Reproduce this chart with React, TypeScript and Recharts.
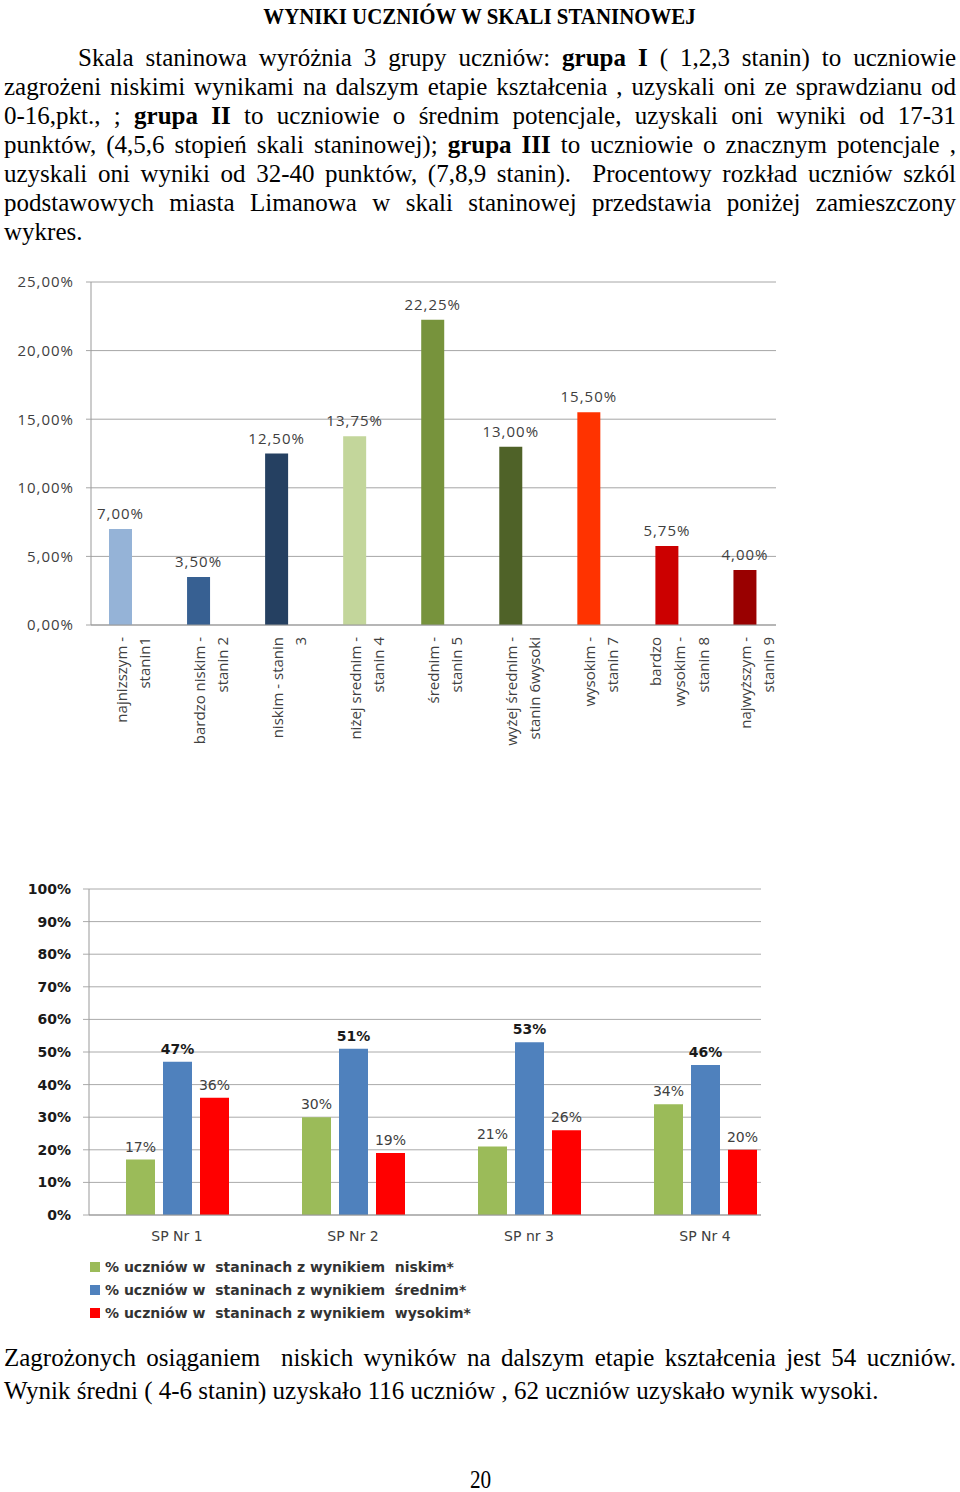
import React from 'react';
import { BarChart, Bar, XAxis, YAxis, CartesianGrid, LabelList, Cell, Legend } from 'recharts';

// ─── data: stanin distribution ───────────────────────────────────────────────
const staninCategories = [
  'najnizszym -\nstanin1',
  'bardzo niskim -\nstanin 2',
  'niskim - stanin\n3',
  'niżej srednim -\nstanin 4',
  'średnim -\nstanin 5',
  'wyżej średnim -\nstanin 6wysoki',
  'wysokim -\nstanin 7',
  'bardzo\nwysokim -\nstanin 8',
  'najwyższym -\nstanin 9',
];
const staninValues = [7, 3.5, 12.5, 13.75, 22.25, 13, 15.5, 5.75, 4];
const staninColors = ['#95B3D7', '#376092', '#254061', '#C3D69B', '#77933C', '#4F6228', '#FF3300', '#CC0000', '#990000'];
const staninTicks = [0, 5, 10, 15, 20, 25];

// ─── data: schools ───────────────────────────────────────────────────────────
const schools = ['SP Nr 1', 'SP Nr 2', 'SP nr 3', 'SP Nr 4'];
const lowShare = [17, 30, 21, 34];
const midShare = [47, 51, 53, 46];
const highShare = [36, 19, 26, 20];
const seriesNames = [
  '% uczniów w  staninach z wynikiem  niskim*',
  '% uczniów w  staninach z wynikiem  średnim*',
  '% uczniów w  staninach z wynikiem  wysokim*',
];
const seriesColors = ['#9BBB59', '#4F81BD', '#FF0000'];
const percentTicks = [0, 10, 20, 30, 40, 50, 60, 70, 80, 90, 100];
const edgeTicks = [0, 1, 2, 3];

const staninData = staninCategories.map((name, i) => ({ name, value: staninValues[i] }));
const schoolData = schools.map((school, i) => ({
  school,
  low: lowShare[i],
  mid: midShare[i],
  high: highShare[i],
}));

const fmtStanin = (v: number) => v.toFixed(2).replace('.', ',') + '%';
const fmtPct = (v: number) => `${v}%`;

const SANS = "'Open Sans', sans-serif";
const DEJA = "'DejaVu Sans', sans-serif";
const SERIF = "'Liberation Serif', 'Times New Roman', serif";

const StaninTick = ({ x, y, payload }: any) => {
  const lines = String(payload.value).split('\n');
  const offs = lines.length === 3 ? [-11, 13, 37] : [1, 24];
  return (
    <g transform={`translate(${x},${y})`}>
      {lines.map((t, i) => (
        <text
          key={i}
          transform="rotate(-90)"
          x={0}
          y={offs[i]}
          textAnchor="end"
          dominantBaseline="central"
          fill="#404040"
          fontSize={15}
          fontFamily={SANS}
        >
          {t}
        </text>
      ))}
    </g>
  );
};

const SchoolLegend = () => (
  <div style={{ fontFamily: DEJA, fontWeight: 'bold', fontSize: 14, color: '#333' }}>
    {seriesNames.map((n, i) => (
      <div key={n} style={{ display: 'flex', alignItems: 'center', height: 23, whiteSpace: 'pre' }}>
        <span style={{ width: 10, height: 10, background: seriesColors[i], marginRight: 5 }} />
        {n}
      </div>
    ))}
  </div>
);

const Line: React.FC<{ top: number; last?: boolean; indent?: number; children: React.ReactNode }> = ({
  top,
  last,
  indent = 0,
  children,
}) => (
  <div
    style={{
      position: 'absolute',
      left: 4,
      width: 952,
      top,
      height: 29,
      lineHeight: '29px',
      paddingLeft: indent,
      boxSizing: 'border-box',
      textAlign: 'justify',
      textAlignLast: last ? 'left' : 'justify',
      whiteSpace: 'nowrap',
    } as React.CSSProperties}
  >
    {children}
  </div>
);

export default function App() {
  const p0 = 43;
  return (
    <div
      style={{
        position: 'absolute',
        left: 0,
        top: 0,
        width: 960,
        height: 1492,
        background: '#fff',
        fontFamily: SERIF,
        fontSize: 25,
        color: '#000',
        overflow: 'hidden',
      }}
    >
      <div style={{ position: 'absolute', top: 2, left: 0, width: 960, textAlign: 'center', lineHeight: '28px' }}>
        <span style={{ display: 'inline-block', fontWeight: 'bold', fontSize: 24, transform: 'scaleX(0.87)' }}>
          WYNIKI UCZNIÓW W SKALI STANINOWEJ
        </span>
      </div>

      <div>
        <Line top={p0} indent={74}>
          Skala staninowa wyróżnia 3 grupy uczniów: <b>grupa I</b> ( 1,2,3 stanin) to uczniowie
        </Line>
        <Line top={p0 + 29}>
          zagrożeni niskimi wynikami na dalszym etapie kształcenia , uzyskali oni ze sprawdzianu od
        </Line>
        <Line top={p0 + 58}>
          0-16,pkt., ; <b>grupa II</b> to uczniowie o średnim potencjale, uzyskali oni wyniki od 17-31
        </Line>
        <Line top={p0 + 87}>
          punktów, (4,5,6 stopień skali staninowej); <b>grupa III</b> to uczniowie o znacznym potencjale ,
        </Line>
        <Line top={p0 + 116}>
          uzyskali oni wyniki od 32-40 punktów, (7,8,9 stanin).{'\u00a0'} Procentowy rozkład uczniów szkól
        </Line>
        <Line top={p0 + 145}>
          podstawowych miasta Limanowa w skali staninowej przedstawia poniżej zamieszczony
        </Line>
        <Line top={p0 + 174} last>
          wykres.
        </Line>
      </div>

      <div style={{ position: 'absolute', left: 0, top: 270 }}>
        <BarChart width={800} height={490} data={staninData} margin={{ top: 12, right: 24, left: 0, bottom: 0 }}>
          <CartesianGrid vertical={false} stroke="#a6a6a6" />
          <XAxis
            dataKey="name"
            interval={0}
            tick={<StaninTick />}
            tickLine={false}
            tickSize={0}
            tickMargin={12}
            height={135}
            axisLine={{ stroke: '#999' }}
            padding={{ left: -10, right: -7.5 }}
          />
          <YAxis
            domain={[0, 25]}
            ticks={staninTicks}
            tickFormatter={fmtStanin}
            width={91}
            tickSize={5}
            tickMargin={12}
            axisLine={{ stroke: '#999' }}
            tickLine={{ stroke: '#a6a6a6' }}
            tick={{ fill: '#404040', fontSize: 15, fontFamily: SANS, letterSpacing: 1 }}
          />
          <Bar dataKey="value" barSize={23} isAnimationActive={false}>
            {staninData.map((d, i) => (
              <Cell key={d.name} fill={staninColors[i]} />
            ))}
            <LabelList
              dataKey="value"
              position="top"
              offset={10}
              formatter={fmtStanin}
              fill="#404040"
              fontSize={15}
              fontFamily={SANS}
              letterSpacing={1}
            />
          </Bar>
        </BarChart>
      </div>

      <div style={{ position: 'absolute', left: 0, top: 870 }}>
        <BarChart
          width={800}
          height={460}
          data={schoolData}
          margin={{ top: 19, right: 39, left: 0, bottom: 85 }}
          barGap={8}
        >
          <CartesianGrid vertical={false} stroke="#aaa" />
          <XAxis
            xAxisId="edges"
            type="number"
            domain={[0, 4]}
            ticks={edgeTicks}
            padding={{ left: 0, right: -32 }}
            tick={false}
            axisLine={false}
            tickLine={{ stroke: '#999' }}
            tickSize={5}
            height={0}
          />
          <XAxis
            dataKey="school"
            tickLine={false}
            tickSize={0}
            tickMargin={16}
            height={30}
            axisLine={{ stroke: '#999' }}
            padding={{ left: 0, right: -32 }}
            tick={{ fill: '#404040', fontSize: 14, fontFamily: DEJA }}
          />
          <YAxis
            domain={[0, 100]}
            ticks={percentTicks}
            tickFormatter={fmtPct}
            width={89}
            tickSize={6}
            tickMargin={12}
            axisLine={{ stroke: '#999' }}
            tickLine={{ stroke: '#aaa' }}
            tick={{ fill: '#1a1a1a', fontSize: 14, fontWeight: 'bold', fontFamily: DEJA }}
          />
          <Legend
            layout="vertical"
            align="center"
            verticalAlign="middle"
            content={<SchoolLegend />}
            wrapperStyle={{ left: 90, top: 385, width: 500 }}
          />
          <Bar dataKey="low" name={seriesNames[0]} fill={seriesColors[0]} barSize={29} isAnimationActive={false}>
            <LabelList dataKey="low" position="top" offset={8} formatter={fmtPct} fill="#404040" fontSize={14} fontFamily={DEJA} />
          </Bar>
          <Bar dataKey="mid" name={seriesNames[1]} fill={seriesColors[1]} barSize={29} isAnimationActive={false}>
            <LabelList
              dataKey="mid"
              position="top"
              offset={8}
              formatter={fmtPct}
              fill="#1a1a1a"
              fontSize={14}
              fontWeight="bold"
              fontFamily={DEJA}
            />
          </Bar>
          <Bar dataKey="high" name={seriesNames[2]} fill={seriesColors[2]} barSize={29} isAnimationActive={false}>
            <LabelList dataKey="high" position="top" offset={8} formatter={fmtPct} fill="#404040" fontSize={14} fontFamily={DEJA} />
          </Bar>
        </BarChart>
      </div>

      <div style={{ position: 'absolute', left: 4, width: 952, top: 1341, lineHeight: '33px' }}>
        <div style={{ textAlign: 'justify', textAlignLast: 'justify', whiteSpace: 'pre' } as React.CSSProperties}>
          Zagrożonych osiąganiem  niskich wyników na dalszym etapie kształcenia jest 54 uczniów.
        </div>
        <div>Wynik średni ( 4-6 stanin) uzyskało 116 uczniów , 62 uczniów uzyskało wynik wysoki.</div>
      </div>

      <div style={{ position: 'absolute', left: 0, width: 960, top: 1469, textAlign: 'center', lineHeight: '22px' }}>
        <span style={{ display: 'inline-block', fontSize: 25, transform: 'scaleX(0.85)' }}>20</span>
      </div>
    </div>
  );
}
